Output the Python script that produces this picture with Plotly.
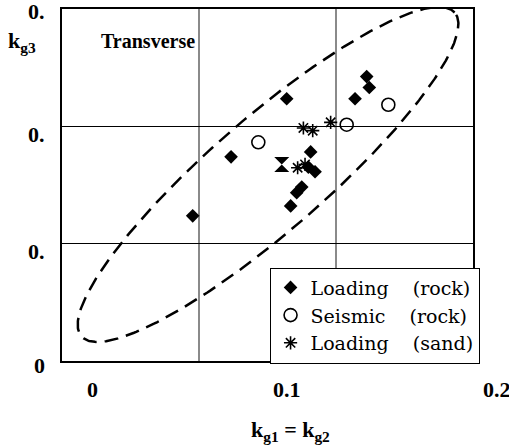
import numpy as np
import plotly.graph_objects as go

# Loading tests on rock
rock_load_x = [0.0954, 0.1234, 0.1640, 0.2139, 0.2224, 0.2243, 0.1815, 0.1798, 0.1847, 0.1750, 0.1713, 0.1669]
rock_load_y = [0.1237, 0.1740, 0.2235, 0.2235, 0.2424, 0.2331, 0.1782, 0.1653, 0.1613, 0.1483, 0.1435, 0.1322]

# Seismic records on rock
rock_seis_x = [0.1433, 0.2078, 0.2382]
rock_seis_y = [0.1864, 0.2014, 0.2184]

# Loading tests on sand
sand_load_x = [0.1762, 0.1830, 0.1961, 0.1720, 0.1774]
sand_load_y = [0.1986, 0.1963, 0.2034, 0.1647, 0.1675]

# overlapping sand records drawn as one merged glyph
sand_merged_x = [0.1604]
sand_merged_y = [0.1675]

# envelope ellipse: centre and two conjugate semi-diameters (data units)
env_center = (0.1504, 0.1590)
env_axis_a = (0.1362, 0.1380)
env_axis_b = (-0.0275, 0.0365)

x_tick_text = ["0", "0.1", "0.2"]
y_tick_text = ["0", "0.", "0.", "0."]

serif_bold = "Liberation Serif"
legend_font = "DejaVu Serif"
nb = "\u00a0"

t = np.linspace(0, 2 * np.pi, 400)
env_x = env_center[0] + env_axis_a[0] * np.cos(t) + env_axis_b[0] * np.sin(t)
env_y = env_center[1] + env_axis_a[1] * np.cos(t) + env_axis_b[1] * np.sin(t)

fig = go.Figure()

fig.add_trace(go.Scatter(
    x=env_x, y=env_y, mode="lines", showlegend=False, hoverinfo="skip",
    line=dict(color="black", width=2.5, dash="14px,8px"),
))

fig.add_trace(go.Scatter(
    x=rock_load_x, y=rock_load_y, mode="markers",
    name="Loading" + nb * 4 + "(rock)",
    marker=dict(symbol="diamond", size=10.5, color="black"),
))
fig.add_trace(go.Scatter(
    x=rock_seis_x, y=rock_seis_y, mode="markers",
    name="Seismic" + nb * 4 + "(rock)",
    marker=dict(symbol="circle-open", size=13, color="black", line=dict(width=1.6, color="black")),
))
fig.add_trace(go.Scatter(
    x=sand_load_x, y=sand_load_y, mode="markers",
    name="Loading" + nb * 4 + "(sand)",
    marker=dict(symbol="asterisk-open", size=11, color="black", line=dict(width=1.6, color="black")),
))
fig.add_trace(go.Scatter(
    x=sand_merged_x, y=sand_merged_y, mode="markers", showlegend=False,
    marker=dict(symbol="hourglass", size=15, color="black", line=dict(width=0)),
))

bold22 = dict(family=serif_bold, size=22, color="black", weight="bold")

annotations = []
# x tick labels
for txt, xp in zip(x_tick_text, [0.073, 0.547, 1.058]):
    annotations.append(dict(
        text=txt, x=xp, y=-0.08, xref="paper", yref="paper",
        xanchor="center", yanchor="middle", showarrow=False, font=bold22,
    ))
# y tick labels
for txt, yp in zip(y_tick_text, [-0.014, 0.311, 0.644, 0.9915]):
    annotations.append(dict(
        text=txt, x=-0.0365, y=yp, xref="paper", yref="paper",
        xanchor="right", yanchor="middle", showarrow=False, font=bold22,
    ))
annotations += [
    dict(text="k<sub>g1</sub> = k<sub>g2</sub>", x=0.557, y=-0.198, xref="paper", yref="paper",
         xanchor="center", yanchor="middle", showarrow=False, font=bold22),
    dict(text="k<sub>g3</sub>", x=-0.097, y=0.905, xref="paper", yref="paper",
         xanchor="center", yanchor="middle", showarrow=False, font=bold22),
    dict(text="Transverse", x=0.09, y=0.91, xref="paper", yref="paper",
         xanchor="left", yanchor="middle", showarrow=False,
         font=dict(family=serif_bold, size=20, color="black", weight="bold")),
]

fig.update_layout(
    width=509, height=446,
    margin=dict(l=62, r=36, t=7, b=85),
    paper_bgcolor="white", plot_bgcolor="white",
    annotations=annotations,
    legend=dict(
        x=0.505, y=0.2655, xanchor="left", yanchor="top",
        bgcolor="white", bordercolor="black", borderwidth=1,
        font=dict(family=legend_font, size=19, color="black"),
        tracegroupgap=0,
    ),
    xaxis=dict(
        range=[0, 0.3], dtick=0.1, showticklabels=False, ticks="",
        showgrid=True, gridcolor="#8a8a8a", gridwidth=2, zeroline=False,
        showline=True, linecolor="black", linewidth=2, mirror=True,
    ),
    yaxis=dict(
        range=[0, 0.3], dtick=0.1, showticklabels=False, ticks="",
        showgrid=True, gridcolor="black", gridwidth=1, zeroline=False,
        showline=True, linecolor="black", linewidth=2, mirror=True,
    ),
)

fig.write_html("out.html", config={"displayModeBar": False})
